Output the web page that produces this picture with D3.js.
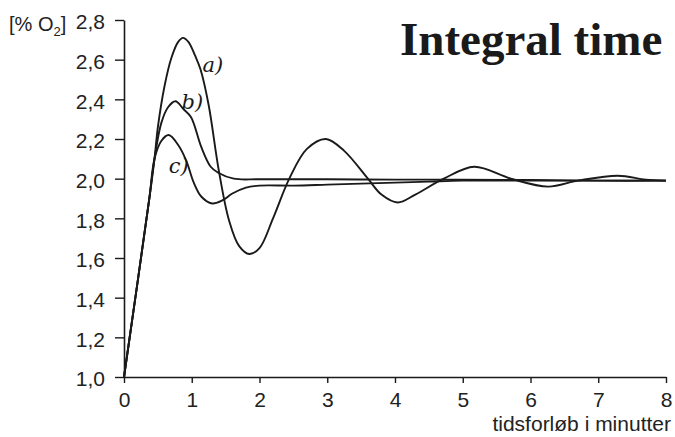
<!DOCTYPE html>
<html>
<head>
<meta charset="utf-8">
<script src="https://cdn.jsdelivr.net/npm/d3@7"></script>
<style>
  body { margin: 0; background: #fff; }
  svg { display: block; }
</style>
</head>
<body>
<div id="chart"></div>
<script>
// O2 response for three integral times
let a_time = [0, 0.37, 0.45, 0.5, 0.6, 0.7, 0.8, 0.87, 0.95, 1.05, 1.13, 1.25, 1.4, 1.55, 1.7, 1.85, 2.0, 2.2, 2.44, 2.7, 2.98, 3.25, 3.6, 3.8, 4.04, 4.3, 4.72, 5.17, 5.71, 6.26, 6.7, 7.29, 7.7, 8.0];
let a_o2 = [1.0, 1.89, 2.1, 2.26, 2.47, 2.61, 2.69, 2.71, 2.69, 2.62, 2.55, 2.37, 2.04, 1.79, 1.66, 1.62, 1.65, 1.8, 2.0, 2.15, 2.2, 2.14, 2.0, 1.92, 1.88, 1.92, 2.0, 2.06, 2.0, 1.96, 1.99, 2.015, 1.995, 1.99];

let b_time = [0, 0.37, 0.45, 0.55, 0.65, 0.76, 0.88, 0.99, 1.14, 1.28, 1.39, 1.62, 2.0, 3.0, 4.0, 5.0, 6.0, 7.0, 8.0];
let b_o2 = [1.0, 1.89, 2.1, 2.28, 2.36, 2.39, 2.35, 2.31, 2.16, 2.06, 2.03, 2.0, 1.997, 1.997, 1.995, 1.995, 1.993, 1.99, 1.99];

let c_time = [0, 0.37, 0.45, 0.55, 0.66, 0.8, 0.92, 1.03, 1.14, 1.3, 1.45, 1.6, 1.8, 2.0, 2.5, 3.0, 3.5, 4.0, 4.5, 5.0, 6.0, 7.0, 8.0];
let c_o2 = [1.0, 1.89, 2.1, 2.19, 2.22, 2.17, 2.09, 1.98, 1.91, 1.875, 1.89, 1.925, 1.955, 1.965, 1.965, 1.97, 1.975, 1.98, 1.985, 1.99, 1.99, 1.99, 1.99];

let curve_names = ['a)', 'b)', 'c)'];
let x_ticks = [0, 1, 2, 3, 4, 5, 6, 7, 8];
let y_ticks = [1.0, 1.2, 1.4, 1.6, 1.8, 2.0, 2.2, 2.4, 2.6, 2.8];

// svg size
let svg_width = 675;
let svg_height = 437;

let svg = d3.select('#chart')
  .append('svg')
  .attr('width', svg_width)
  .attr('height', svg_height);

// scales
let xScale = d3.scaleLinear().domain([0, 8]).range([124, 666]);
let yScale = d3.scaleLinear().domain([1.0, 2.8]).range([377, 20]);

let ink = '#1a1a1a';
let sans = '"Liberation Sans", Arial, Helvetica, sans-serif';

// y axis
let yAxis = svg.append('g')
  .attr('transform', `translate(${xScale(0)}, 0)`)
  .call(d3.axisLeft(yScale)
    .tickValues(y_ticks)
    .tickSize(9)
    .tickSizeOuter(0)
    .tickPadding(10)
    .tickFormat(d => d3.format('.1f')(d).replace('.', ',')));

// x axis
let xAxis = svg.append('g')
  .attr('transform', `translate(0, ${yScale(1.0)})`)
  .call(d3.axisBottom(xScale)
    .tickValues(x_ticks)
    .tickSize(6)
    .tickSizeOuter(0)
    .tickPadding(9)
    .tickFormat(d3.format('d')));

svg.selectAll('.domain')
  .attr('stroke', ink)
  .attr('stroke-width', 1.6);
svg.selectAll('.tick line')
  .attr('stroke', ink)
  .attr('stroke-width', 1.4);
svg.selectAll('.tick text')
  .attr('fill', '#222')
  .attr('font-family', sans)
  .attr('font-size', '21px');
yAxis.selectAll('.tick text').attr('dy', '0.42em');

// curves
let line = d3.line()
  .x(d => xScale(d[0]))
  .y(d => yScale(d[1]))
  .curve(d3.curveCatmullRom.alpha(0.5));

let series = [
  d3.zip(a_time, a_o2),
  d3.zip(b_time, b_o2),
  d3.zip(c_time, c_o2)
];

svg.append('g')
  .selectAll('path')
  .data(series)
  .enter()
  .append('path')
  .attr('d', line)
  .attr('fill', 'none')
  .attr('stroke', ink)
  .attr('stroke-width', 1.9)
  .attr('stroke-linejoin', 'round');

// handwritten curve labels
let label_pos = [[1.16, 2.54], [0.85, 2.35], [0.66, 2.03]];
svg.append('g')
  .selectAll('text')
  .data(curve_names)
  .enter()
  .append('text')
  .attr('x', (d, i) => xScale(label_pos[i][0]))
  .attr('y', (d, i) => yScale(label_pos[i][1]))
  .attr('font-family', '"DejaVu Serif", serif')
  .attr('font-style', 'italic')
  .attr('font-size', '21px')
  .attr('fill', ink)
  .text(d => d);

// y axis unit
let unit = svg.append('text')
  .attr('x', 9)
  .attr('y', 31)
  .attr('font-family', sans)
  .attr('font-size', '20px')
  .attr('fill', '#222');
unit.append('tspan').text('[% O');
unit.append('tspan').attr('font-size', '13px').attr('dy', 5).text('2');
unit.append('tspan').attr('dy', -5).text(']');

// x axis title
svg.append('text')
  .attr('x', 671)
  .attr('y', 431)
  .attr('text-anchor', 'end')
  .attr('font-family', sans)
  .attr('font-size', '21px')
  .attr('fill', '#222')
  .text('tidsforløb i minutter');

// chart title
svg.append('text')
  .attr('x', 400)
  .attr('y', 55)
  .attr('font-family', '"Liberation Serif", "Times New Roman", serif')
  .attr('font-weight', 'bold')
  .attr('font-size', '47px')
  .attr('fill', '#1a1a1a')
  .text('Integral time');
</script>
</body>
</html>
